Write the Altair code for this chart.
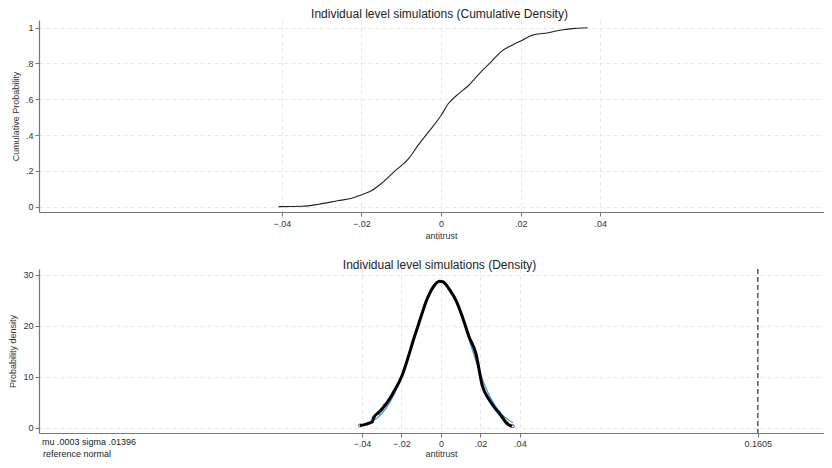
import altair as alt
import pandas as pd

# ---- data ----
cdf_x = [-0.0408, -0.035, -0.0308, -0.0258, -0.0224, -0.0199, -0.0174, -0.0149, -0.0115,
         -0.0082, -0.0057, -0.0032, 0.0, 0.0018, 0.0039, 0.0069, 0.0098, 0.0127, 0.0152,
         0.0177, 0.0203, 0.0228, 0.0269, 0.0303, 0.0336, 0.0368]
cdf_y = [0.0, 0.002, 0.013, 0.034, 0.047, 0.067, 0.090, 0.131, 0.201,
         0.267, 0.345, 0.416, 0.509, 0.575, 0.621, 0.677, 0.748, 0.812, 0.868,
         0.901, 0.929, 0.957, 0.972, 0.987, 0.996, 1.0]

dens_x = [-0.041, -0.0348, -0.034, -0.0307, -0.0273, -0.0232, -0.0198, -0.0165, -0.014,
          -0.0107, -0.0073, -0.004, -0.0007, 0.001, 0.0043, 0.0077, 0.011, 0.0143,
          0.0177, 0.021, 0.0243, 0.0277, 0.031, 0.0335, 0.036]
dens_y = [0.45, 1.2, 2.0, 3.3, 4.9, 7.5, 10.1, 13.9, 17.1,
          21.0, 24.9, 27.5, 28.7, 28.6, 27.1, 24.9, 21.6, 17.8,
          14.6, 8.2, 5.6, 3.7, 2.1, 0.8, 0.3]

tail_x = [-0.041, -0.0348, -0.034, -0.0315, -0.0300, -0.0285, 0.0295, 0.031, 0.0335, 0.0365]
tail_y = [0.45, 1.2, 2.0, 2.9, 3.6, 4.4, 3.0, 2.1, 0.9, 0.3]

norm_x = [-0.041, -0.035, -0.03, -0.025, -0.02, -0.015, -0.01, -0.005, 0.0,
          0.005, 0.01, 0.015, 0.02, 0.025, 0.03, 0.0365]
norm_y = [0.36, 1.17, 2.71, 5.53, 9.93, 15.67, 21.77, 26.59, 28.57,
          27.0, 22.45, 16.42, 10.56, 5.97, 2.97, 0.99]

cutoff = [0.1605]
top_xticks = [-0.04, -0.02, 0, 0.02, 0.04]
bot_xticks = [-0.04, -0.02, 0, 0.02, 0.04, 0.1605]
top_yticks = [0, 0.2, 0.4, 0.6, 0.8, 1]
bot_yticks = [0, 10, 20, 30]
notes = ["mu .0003 sigma .01396", "reference normal"]

FONT = "Liberation Sans"
W = 785
LBL = "datum.value == 0 ? '0' : (abs(datum.value - 0.1605) < 1e-9 ? '0.1605' : replace(format(datum.value, '.4~f'), '0.', '.'))"

cdf_df = pd.DataFrame({"x": cdf_x, "y": cdf_y})
dens_df = pd.DataFrame({"x": dens_x, "y": dens_y})
tail_df = pd.DataFrame({"x": tail_x, "y": tail_y})
norm_df = pd.DataFrame({"x": norm_x, "y": norm_y})
cut_df = pd.DataFrame({"x": cutoff})

def xaxis(ticks, tx, lp, tp):
    return alt.Axis(values=ticks, labelExpr=LBL, title="antitrust", titleX=tx,
                    titleAnchor="start", titleAlign="center", titlePadding=tp,
                    labelPadding=lp, tickSize=4)

def title(txt, dx, off):
    return alt.TitleParams(txt, dx=dx, fontSize=12, fontWeight="normal", font=FONT,
                           color="#222222", offset=off)

# ---- top panel ----
top_x = alt.X("x:Q", scale=alt.Scale(domain=[-0.101, 0.0962], nice=False, zero=False),
              axis=xaxis(top_xticks, 402, 3, 3))
top_y = alt.Y("y:Q", scale=alt.Scale(domain=[-0.03, 1.043], nice=False, zero=False),
              axis=alt.Axis(values=top_yticks, labelExpr=LBL, title="Cumulative Probability",
                            titlePadding=5, labelPadding=2, tickSize=4))
top = alt.Chart(cdf_df).mark_line(color="#222222", strokeWidth=1.1,
                                  interpolate="monotone").encode(
    x=top_x, y=top_y
).properties(width=W, height=192,
             title=title("Individual level simulations (Cumulative Density)", 8, -1))

# ---- bottom panel ----
bx = alt.X("x:Q", scale=alt.Scale(domain=[-0.2035, 0.194], nice=False, zero=False),
           axis=xaxis(bot_xticks, 402, 2, 1))
by = alt.Y("y:Q", scale=alt.Scale(domain=[-1.02, 31.1], nice=False, zero=False),
           axis=alt.Axis(values=bot_yticks, title="Probability density",
                         titlePadding=5, labelPadding=2, tickSize=4))

norm_line = alt.Chart(norm_df).mark_line(color="#3d8fe0", strokeWidth=1.2,
                                         interpolate="monotone").encode(x=bx, y=by)
dens_line = alt.Chart(dens_df).mark_line(color="#000000", strokeWidth=3,
                                         interpolate="monotone").encode(x=bx, y=by)
tails = alt.Chart(tail_df).mark_point(shape="circle", size=9, color="#222222",
                                      strokeWidth=1, filled=False).encode(x=bx, y=by)
rule = alt.Chart(cut_df).mark_rule(color="#111111", strokeDash=[5, 3], strokeWidth=1).encode(x=bx)
note1 = alt.Chart(pd.DataFrame({"t": [notes[0]]})).mark_text(
    align="left", baseline="middle", fontSize=9, font=FONT, color="#222222"
).encode(x=alt.value(3), y=alt.value(173), text="t:N")
note2 = alt.Chart(pd.DataFrame({"t": [notes[1]]})).mark_text(
    align="left", baseline="middle", fontSize=9, font=FONT, color="#222222"
).encode(x=alt.value(4), y=alt.value(185), text="t:N")

bottom = alt.layer(rule, norm_line, dens_line, tails, note1, note2).properties(
    width=W, height=164,
    title=title("Individual level simulations (Density)", 8, -3)
)

chart = alt.vconcat(top, bottom, spacing=18).properties(padding=0).configure_view(
    stroke=None
).configure_axis(
    labelFont=FONT, titleFont=FONT, labelFontSize=9, titleFontSize=9,
    labelColor="#333333", titleColor="#333333", titleFontWeight="normal",
    domainColor="#777777", tickColor="#777777", domainWidth=1.2,
    gridColor="#e8e8e8", gridDash=[4, 3], gridWidth=1
)

chart.save("out.html", embed_options={"renderer": "svg", "actions": False})
